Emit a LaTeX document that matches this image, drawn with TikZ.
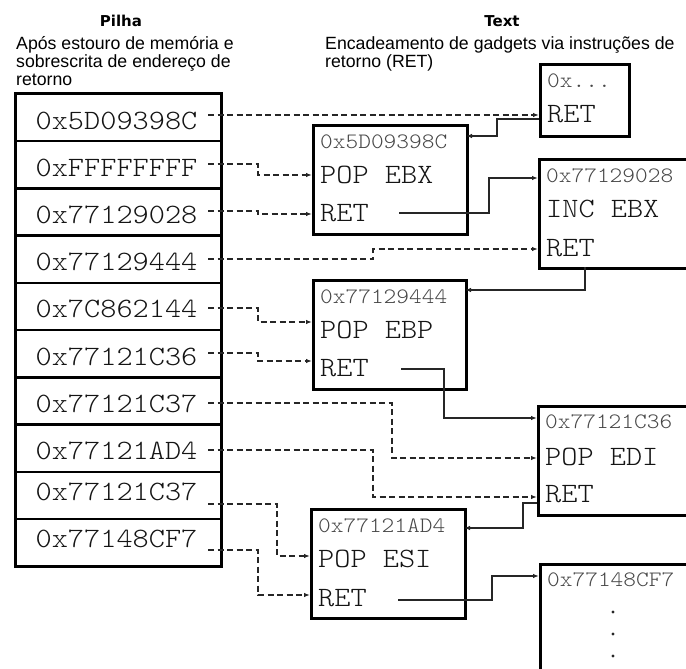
\documentclass[tikz,border=0pt]{standalone}
\usepackage{fontspec}
\setmainfont{Liberation Sans}
\newfontfamily\titlefont{DejaVu Sans}
\newfontfamily\monofont{lmmonolt10-regular.otf}[FakeStretch=1.1]
\usetikzlibrary{arrows.meta}
\begin{document}
\begin{tikzpicture}[x=1pt,y=-1pt,
  stackrow/.style={draw, line width=2.6pt, minimum width=206pt, minimum height=47.25pt, anchor=north west, inner sep=0pt},
  gbox/.style={draw, line width=2.6pt, anchor=north west, inner sep=0pt},
  big/.style={font=\monofont\fontsize{28}{28}\selectfont, text=black!92, anchor=base west, inner sep=0pt},
  bigc/.style={big, anchor=base},
  addr/.style={font=\monofont\fontsize{22}{22}\selectfont, text=black!72, anchor=base west, inner sep=0pt},
  ttl/.style={font=\titlefont\bfseries\fontsize{15}{15}\selectfont, anchor=base, inner sep=0pt},
  txt/.style={font=\fontsize{17.7}{17.7}\selectfont, anchor=base west, inner sep=0pt},
  dl/.style={dash pattern=on 6pt off 3.5pt, line width=1.2pt, -{Latex[length=6pt,width=4.5pt]}, black!85},
  sl/.style={line width=1.2pt, -{Latex[length=6pt,width=4.5pt]}, black!85},
  dot/.style={circle, fill=black!85, inner sep=0pt, minimum size=3.2pt}
]
\useasboundingbox (0,0) rectangle (686,669);
\clip (0,0) rectangle (686,669);

% titles
\node[ttl] (tp) at (121,27) {Pilha};
\node[ttl] (tt) at (502,27) {Text};
\node[txt] (l1) at (16,50) {Após estouro de memória e};
\node[txt] (l2) at (16,67.5) {sobrescrita de endereço de};
\node[txt] (l3) at (16,85) {retorno};
\node[txt] (r1) at (325,50) {Encadeamento de gadgets via instruções de};
\node[txt] (r2) at (325,67.5) {retorno (RET)};

% stack
\node[stackrow] (s1) at (14,92.5) {};
\node[stackrow] (s2) at (14,139.75) {};
\node[stackrow] (s3) at (14,187) {};
\node[stackrow] (s4) at (14,234.25) {};
\node[stackrow] (s5) at (14,281.5) {};
\node[stackrow] (s6) at (14,328.75) {};
\node[stackrow] (s7) at (14,376) {};
\node[stackrow] (s8) at (14,423.25) {};
\node[stackrow] (s9) at (14,470.5) {};
\node[stackrow] (s10) at (14,517.75) {};

\node[bigc] (v1) at (116.5,129.1) {0x5D09398C};
\node[bigc] (v2) at (116.5,176.1) {0xFFFFFFFF};
\node[bigc] (v3) at (116.5,223.4) {0x77129028};
\node[bigc] (v4) at (116.5,270.6) {0x77129444};
\node[bigc] (v5) at (116.5,317.9) {0x7C862144};
\node[bigc] (v6) at (116.5,365.1) {0x77121C36};
\node[bigc] (v7) at (116.5,412.4) {0x77121C37};
\node[bigc] (v8) at (116.5,459.6) {0x77121AD4};
\node[bigc] (v9) at (116.5,500.5) {0x77121C37};
\node[bigc] (v10) at (116.5,547.5) {0x77148CF7};

% gadget boxes
\node[gbox, minimum width=89pt, minimum height=72pt] (A) at (539,63) {};
\node[gbox, minimum width=154pt, minimum height=109pt] (B) at (312,124) {};
\node[gbox, minimum width=200pt, minimum height=109pt] (C) at (538,158) {};
\node[gbox, minimum width=153pt, minimum height=109pt] (D) at (312,279) {};
\node[gbox, minimum width=200pt, minimum height=109pt] (E) at (537,405) {};
\node[gbox, minimum width=154pt, minimum height=109pt] (F) at (310,508) {};
\node[gbox, minimum width=200pt, minimum height=150pt] (G) at (539,563) {};

% gadget texts
\node[addr] (a1) at (547,88) {0x...};
\node[big] (a2) at (547,122) {RET};
\node[addr] (b1) at (320,148) {0x5D09398C};
\node[big] (b2) at (320,183) {POP EBX};
\node[big] (b3) at (320,221) {RET};
\node[addr] (c1) at (546,182) {0x77129028};
\node[big] (c2) at (546,217) {INC EBX};
\node[big] (c3) at (546,256) {RET};
\node[addr] (d1) at (320,303) {0x77129444};
\node[big] (d2) at (320,338) {POP EBP};
\node[big] (d3) at (320,376) {RET};
\node[addr] (e1) at (545,428) {0x77121C36};
\node[big] (e2) at (545,465) {POP EDI};
\node[big] (e3) at (545,502) {RET};
\node[addr] (f1) at (318,532) {0x77121AD4};
\node[big] (f2) at (318,567) {POP ESI};
\node[big] (f3) at (318,606) {RET};
\node[addr] (g1) at (547,586) {0x77148CF7};
\node[dot] (g2) at (613,612) {};
\node[dot] (g3) at (613,634) {};
\node[dot] (g4) at (613,656) {};

% ports
\coordinate (p1) at (208,115);
\coordinate (p2) at (208,164);
\coordinate (p3) at (208,211);
\coordinate (p4) at (208,259);
\coordinate (p5) at (208,308);
\coordinate (p6) at (208,353);
\coordinate (p7) at (208,403);
\coordinate (p8) at (208,450);
\coordinate (p9) at (208,504);
\coordinate (p10) at (208,550);

\coordinate (Ain) at (539,115);
\coordinate (Bpop) at (312,175);
\coordinate (Bret) at (312,214);
\coordinate (Cret) at (538,249);
\coordinate (Dpop) at (312,322);
\coordinate (Dret) at (312,361);
\coordinate (Epop) at (537,458);
\coordinate (Eret) at (537,497);
\coordinate (Fpop) at (310,556);
\coordinate (Fret) at (310,595);

\coordinate (Aout) at (539,119);
\coordinate (Bin) at (466,136);
\coordinate (Bout) at (399,213);
\coordinate (Cin) at (538,178);
\coordinate (Cout) at (585,267);
\coordinate (Din) at (465,290);
\coordinate (Dout) at (401,369);
\coordinate (Ein) at (537,418);
\coordinate (Eout) at (537,503);
\coordinate (Fin) at (464,528);
\coordinate (Fout) at (398,600);
\coordinate (Gin) at (539,576);

% dashed connectors (stack -> gadgets)
\draw[dl] (p1) -- (Ain);
\draw[dl] (p2) -- ++(50,0) |- (Bpop);
\draw[dl] (p3) -- ++(50,0) |- (Bret);
\draw[dl] (p4) -- ++(165,0) |- (Cret);
\draw[dl] (p5) -- ++(50,0) |- (Dpop);
\draw[dl] (p6) -- ++(50,0) |- (Dret);
\draw[dl] (p7) -- ++(184,0) |- (Epop);
\draw[dl] (p8) -- ++(165,0) |- (Eret);
\draw[dl] (p9) -- ++(69,0) |- (Fpop);
\draw[dl] (p10) -- ++(50,0) |- (Fret);

% solid connectors (RET chaining)
\draw[sl] (Aout) -- ++(-42,0) |- (Bin);
\draw[sl] (Bout) -- ++(90,0) |- (Cin);
\draw[sl] (Cout) |- (Din);
\draw[sl] (Dout) -- ++(43,0) |- (Ein);
\draw[sl] (Eout) -- ++(-14,0) |- (Fin);
\draw[sl] (Fout) -- ++(94,0) |- (Gin);
\end{tikzpicture}
\end{document}
